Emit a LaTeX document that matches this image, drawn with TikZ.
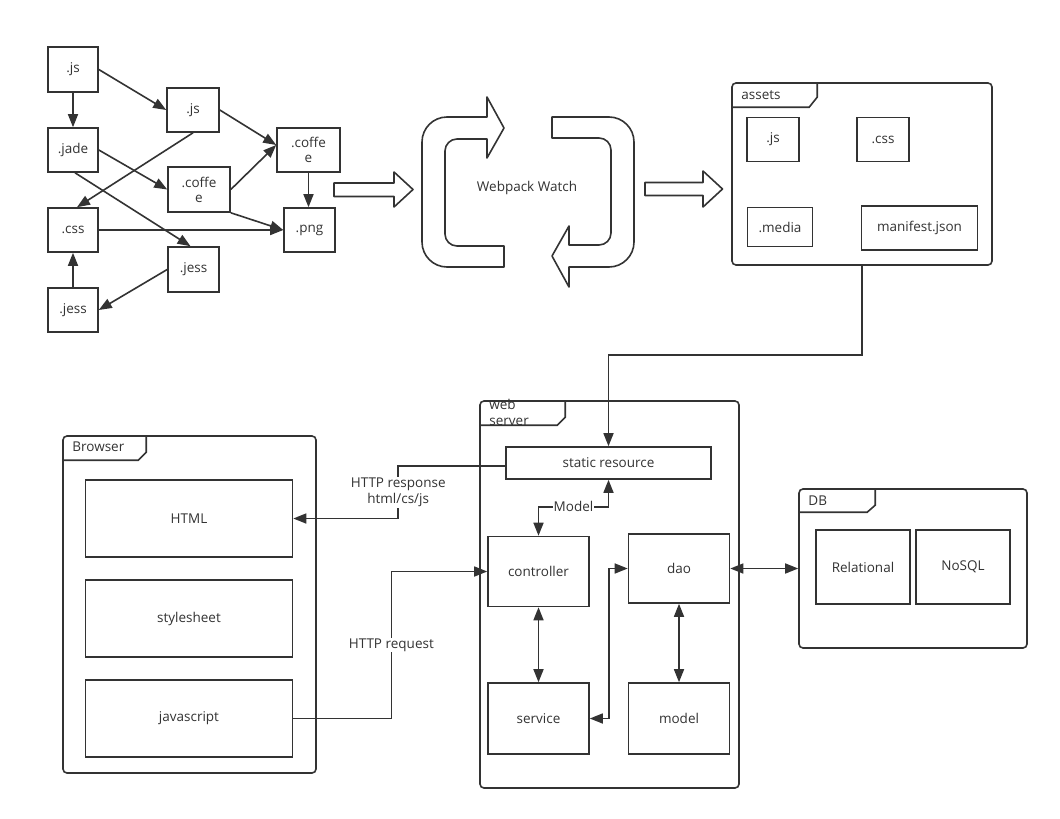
\documentclass[tikz,border=0pt]{standalone}
\usepackage{fontspec}
\setmainfont{Open Sans}
\usepackage{tikz}
\usetikzlibrary{arrows.meta,positioning,calc}
\definecolor{ink}{RGB}{51,51,51}

\tikzset{
  box/.style={draw=ink, line width=1.6pt, fill=white, align=center, inner sep=1pt,
    font=\fontsize{13.5}{15}\selectfont, text=ink},
  frame/.style={draw=ink, line width=1.6pt, rounded corners=4pt},
  tab/.style={draw=ink, line width=1.6pt},
  tablabel/.style={anchor=west, inner sep=0pt, align=left,
    font=\fontsize{13.5}{16}\selectfont, text=ink},
  conn/.style={draw=ink, line width=1.6pt, -{Triangle[length=13pt,width=10pt]}},
  biconn/.style={conn, {Triangle[length=13pt,width=10pt]}-{Triangle[length=13pt,width=10pt]}},
  lbl/.style={fill=white, inner sep=1pt, align=center,
    font=\fontsize{13.5}{16}\selectfont, text=ink},
  bigarrow/.style={draw=ink, line width=1.6pt, fill=white, line join=round},
}

\begin{document}
\begin{tikzpicture}[x=1pt, y=-1pt]
    \fill[white] (0,0) rectangle (1060,819);
    \useasboundingbox (0,0) rectangle (1060,819);

    % Source files
    \node[box, minimum width=50, minimum height=45] (js) at (73,69.5) {.js};
    \node[box, minimum width=50, minimum height=44] (jade) at (73,150) {.jade};
    \node[box, minimum width=50, minimum height=44] (css) at (73,230) {.css};
    \node[box, minimum width=50, minimum height=44] (jessA) at (73,310) {.jess};
    \node[box, minimum width=52, minimum height=44] (jsB) at (193,110) {.js};
    \node[box, minimum width=62, minimum height=45] (coffeA) at (199,189.5) {.coffe\\e};
    \node[box, minimum width=51, minimum height=45] (jessB) at (193.5,269.5) {.jess};
    \node[box, minimum width=63, minimum height=44] (coffeB) at (308.5,150) {.coffe\\e};
    \node[box, minimum width=51, minimum height=44] (png) at (309.5,230) {.png};

    \draw[conn] (js.east) -- (jsB.west);
    \draw[conn] (js.south) -- (jade.north);
    \draw[conn] (jsB.east) -- ([yshift=5pt]coffeB.west);
    \draw[conn] (jsB.south) -- ([xshift=4pt]css.north);
    \draw[conn] (jade.east) -- (coffeA.west);
    \draw[conn] ([xshift=2pt]jade.south) -- ([xshift=-3pt]jessB.north);
    \draw[conn] (coffeA.east) -- ([yshift=5pt]coffeB.west);
    \draw[conn] (coffeA.south east) -- (png.west);
    \draw[conn] (coffeB.south) -- (coffeB.south |- png.north);
    \draw[conn] (css.east) -- (png.west);
    \draw[conn] (jessB.west) -- (jessA.east);
    \draw[conn] (jessA.north) -- (css.south);

    % Block arrows
    \draw[bigarrow] (334,183) -- (394,183) -- (394,172) -- (413,189.5)
        -- (394,207) -- (394,196.5) -- (334,196.5) -- cycle;
    \draw[bigarrow] (645,182.5) -- (703,182.5) -- (703,171) -- (722.5,189)
        -- (703,207) -- (703,195.5) -- (645,195.5) -- cycle;

    % Watch cycle
    \foreach \ang in {0,180} {
      \draw[bigarrow, rotate around={\ang:(528,192)}]
        (504,267) -- (447,267) .. controls (433.2,267) and (422,255.8) .. (422,242)
        -- (422,142) .. controls (422,128.2) and (433.2,117) .. (447,117)
        -- (487,117) -- (487,97) -- (504,128) -- (487,158) -- (487,139)
        -- (457,139) .. controls (450.4,139) and (445,144.4) .. (445,151)
        -- (445,234) .. controls (445,240.6) and (450.4,246) .. (457,246)
        -- (504,246) -- cycle;
    }
    \node[font=\fontsize{13.5}{16}\selectfont, text=ink] (watch) at (527,188) {Webpack Watch};

    % Assets
    \node[frame, minimum width=260, minimum height=182] (assets) at (862,174) {};
    \draw[tab] (assets.north west) ++(0,25) -- ++(78,0) -- ++(8,-10) -- ++(0,-15);
    \node[tablabel] at ([xshift=10pt,yshift=-13pt]assets.north west) {assets};
    \node[box, minimum width=52, minimum height=44] (ajs) at (773,139.5) {.js};
    \node[box, minimum width=52, minimum height=44] (acss) at (883,139.5) {.css};
    \node[box, minimum width=65, minimum height=39] (amedia) at (780,227) {.media};
    \node[box, minimum width=116, minimum height=44] (amanifest) at (919.5,228) {manifest.json};

    % Web server
    \node[frame, minimum width=259, minimum height=387] (server) at (609.5,594.5) {};
    \draw[tab] (server.north west) ++(0,25) -- ++(78,0) -- ++(8,-8) -- ++(0,-17);
    \node[tablabel] at ([xshift=10pt,yshift=-12pt]server.north west) {web\\server};
    \node[box, minimum width=205, minimum height=32] (static) at (608.5,463) {static resource};
    \node[box, minimum width=101, minimum height=70] (controller) at (538.5,571.5) {controller};
    \node[box, minimum width=101, minimum height=69] (dao) at (679,568.5) {dao};
    \node[box, minimum width=101, minimum height=71] (service) at (538.5,718.5) {service};
    \node[box, minimum width=101, minimum height=71] (model) at (679,718.5) {model};

    % DB
    \node[frame, minimum width=228, minimum height=159] (db) at (913,568.5) {};
    \draw[tab] (db.north west) ++(0,24) -- ++(69,0) -- ++(8,-7) -- ++(0,-17);
    \node[tablabel] at ([xshift=10pt,yshift=-12pt]db.north west) {DB};
    \node[box, minimum width=94, minimum height=74] (relational) at (863,567) {Relational};
    \node[box, minimum width=94, minimum height=74] (nosql) at (963,567) {NoSQL};

    % Browser
    \node[frame, minimum width=253, minimum height=337] (browser) at (189.5,604.5) {};
    \draw[tab] (browser.north west) ++(0,25) -- ++(76,0) -- ++(8,-8) -- ++(0,-17);
    \node[tablabel] at ([xshift=10pt,yshift=-12pt]browser.north west) {Browser};
    \node[box, minimum width=207, minimum height=77] (html) at (189,518.5) {HTML};
    \node[box, minimum width=207, minimum height=77] (stylesheet) at (189,618.5) {stylesheet};
    \node[box, minimum width=207, minimum height=77] (javascript) at (189,718.5) {javascript};

    % Connectors
    \draw[conn] (assets.south) -- ++(0,89) -| (static.north);
    \draw[biconn] (controller.north) -- ++(0,-29) -| node[lbl, pos=0.25] {Model} (static.south);
    \draw[biconn] (dao.west) -- ++(-19,0) |- (service.east);
    \draw[biconn] (controller.south) -- (service.north);
    \draw[biconn] (dao.south) -- (model.north);
    \draw[biconn] (dao.east) -- (dao.east -| db.west);
    \draw[conn] ([yshift=-3pt]static.west) -- ++(-107,0)
        |- node[lbl, pos=0.25] {HTTP response\\html/cs/js} (html.east);
    \draw[conn] (javascript.east) -- ++(98,0)
        |- node[lbl, pos=0.25] {HTTP request} (controller.west);
\end{tikzpicture}
\end{document}
